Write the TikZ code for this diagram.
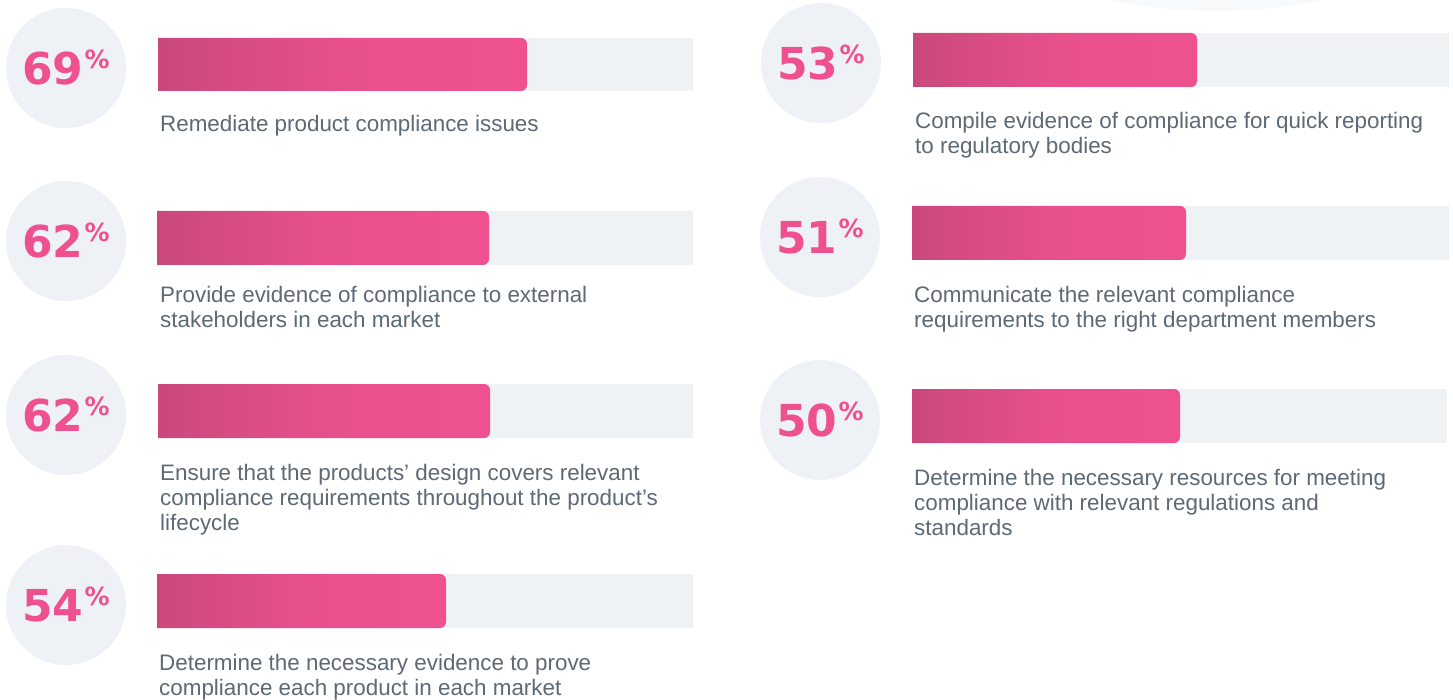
\documentclass[tikz,border=0pt]{standalone}
\usepackage{fontspec}
\setmainfont{Liberation Sans}
\newfontfamily\numfont{DejaVu Sans}
\usepackage{tikz}
\definecolor{pink}{HTML}{EF5190}
\definecolor{pinkdark}{HTML}{C9497C}
\definecolor{disc}{HTML}{EEF1F5}
\definecolor{track}{HTML}{EEF2F5}
\definecolor{slate}{HTML}{5D6975}
\definecolor{haze}{HTML}{F8F9FB}
\newcommand\perc{\kern1pt\raisebox{16pt}{\fontsize{25}{25}\selectfont\%}}
\tikzset{
  disc/.style={circle, fill=disc, minimum size=120pt, inner sep=0pt, text=pink,
    font=\numfont\bfseries\fontsize{44}{44}\selectfont},
  trackbar/.style={fill=track},
  fillbar/.style={left color=pinkdark, right color=pink, middle color=pink!80!pinkdark},
  lab/.style={text=slate, anchor=north west, inner sep=0pt, align=left,
    font=\fontsize{22.4}{25}\selectfont},
}

\begin{document}
\begin{tikzpicture}[x=1pt, y=-1pt]
  \useasboundingbox (0,0) rectangle (1453,700);
  \clip (0,0) rectangle (1453,700);
  \fill[white] (0,0) rectangle (1453,700);
  \fill[haze] (1216,-505) circle[radius=516];

  % left column
  \node[disc] (c1) at (66,68) {69\perc};
  \fill[trackbar] (158,38) rectangle (693,91);
  \shade[fillbar] (158,38) -- (521,38) arc[start angle=-90, end angle=0, radius=6] -- (527,85) arc[start angle=0, end angle=90, radius=6] -- (158,91) -- cycle;
  \node[lab] (t1) at (160,114.7) {Remediate product compliance issues};

  \node[disc] (c2) at (66,241) {62\perc};
  \fill[trackbar] (157,211) rectangle (693,265);
  \shade[fillbar] (157,211) -- (483,211) arc[start angle=-90, end angle=0, radius=6] -- (489,259) arc[start angle=0, end angle=90, radius=6] -- (157,265) -- cycle;
  \node[lab] (t2) at (160,285.7) {Provide evidence of compliance to external\\stakeholders in each market};

  \node[disc] (c3) at (66,415) {62\perc};
  \fill[trackbar] (158,384) rectangle (693,438);
  \shade[fillbar] (158,384) -- (484,384) arc[start angle=-90, end angle=0, radius=6] -- (490,432) arc[start angle=0, end angle=90, radius=6] -- (158,438) -- cycle;
  \node[lab] (t3) at (160,463.7) {Ensure that the products’ design covers relevant\\compliance requirements throughout the product’s\\lifecycle};

  \node[disc] (c4) at (66,605) {54\perc};
  \fill[trackbar] (157,574) rectangle (693,628);
  \shade[fillbar] (157,574) -- (440,574) arc[start angle=-90, end angle=0, radius=6] -- (446,622) arc[start angle=0, end angle=90, radius=6] -- (157,628) -- cycle;
  \node[lab] (t4) at (159,653.7) {Determine the necessary evidence to prove\\compliance each product in each market};

  % right column
  \node[disc] (c5) at (821,63) {53\perc};
  \fill[trackbar] (913,33) rectangle (1449,87);
  \shade[fillbar] (913,33) -- (1191,33) arc[start angle=-90, end angle=0, radius=6] -- (1197,81) arc[start angle=0, end angle=90, radius=6] -- (913,87) -- cycle;
  \node[lab] (t5) at (915,111.7) {Compile evidence of compliance for quick reporting\\to regulatory bodies};

  \node[disc] (c6) at (820,237) {51\perc};
  \fill[trackbar] (912,206) rectangle (1449,260);
  \shade[fillbar] (912,206) -- (1180,206) arc[start angle=-90, end angle=0, radius=6] -- (1186,254) arc[start angle=0, end angle=90, radius=6] -- (912,260) -- cycle;
  \node[lab] (t6) at (914,285.7) {Communicate the relevant compliance\\requirements to the right department members};

  \node[disc] (c7) at (820,420) {50\perc};
  \fill[trackbar] (912,389) rectangle (1447,443);
  \shade[fillbar] (912,389) -- (1174,389) arc[start angle=-90, end angle=0, radius=6] -- (1180,437) arc[start angle=0, end angle=90, radius=6] -- (912,443) -- cycle;
  \node[lab] (t7) at (914,468.7) {Determine the necessary resources for meeting\\compliance with relevant regulations and\\standards};
\end{tikzpicture}
\end{document}
